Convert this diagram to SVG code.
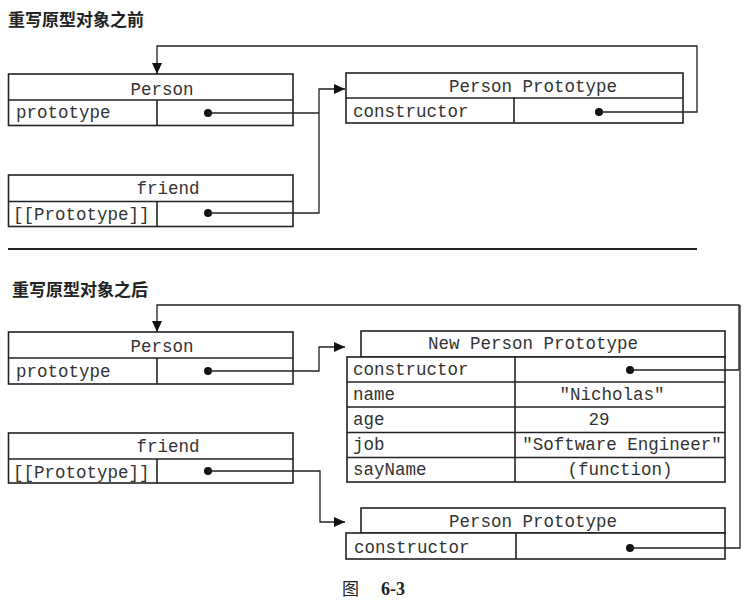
<svg xmlns="http://www.w3.org/2000/svg" width="756" height="603" viewBox="0 0 756 603">
<defs>
<marker id="arr" markerUnits="userSpaceOnUse" markerWidth="12" markerHeight="10" refX="11" refY="5" orient="auto">
<path d="M0,0 L11,5 L0,10 z" fill="#111"/>
</marker>
<style>
.box{fill:#fff;stroke:#222;stroke-width:1.6}
.ln{fill:none;stroke:#222;stroke-width:1.6}
.c{fill:none;stroke:#222;stroke-width:1.3}
.dot{fill:#111}
.m{font-family:"Liberation Mono","DejaVu Sans Mono",monospace;font-size:17.5px;fill:#333}
.mid{text-anchor:middle}
.title{font-family:"Noto Sans CJK SC",sans-serif;font-weight:bold;font-size:17px;fill:#222}
</style>
</defs>
<rect width="756" height="603" fill="#fff"/>

<text class="title" x="8" y="26">重写原型对象之前</text>
<text class="title" x="12" y="296">重写原型对象之后</text>
<line x1="8" y1="249" x2="697" y2="249" stroke="#222" stroke-width="2"/>

<!-- top section -->
<g id="person-top">
<rect class="box" x="8.5" y="74" width="284.5" height="51.5"/>
<line class="ln" x1="8.5" y1="100" x2="293" y2="100"/>
<line class="ln" x1="157" y1="100" x2="157" y2="125.5"/>
<text class="m mid" x="162" y="95">Person</text>
<text class="m" x="16" y="118">prototype</text>
<circle class="dot" cx="208" cy="113" r="4"/>
</g>
<g id="friend-top">
<rect class="box" x="8.5" y="175" width="284.5" height="51.5"/>
<line class="ln" x1="8.5" y1="201.5" x2="293" y2="201.5"/>
<line class="ln" x1="157" y1="201.5" x2="157" y2="226.5"/>
<text class="m mid" x="168" y="194">friend</text>
<text class="m" x="13" y="220">[[Prototype]]</text>
<circle class="dot" cx="208" cy="213" r="4"/>
</g>
<g id="proto-top">
<rect class="box" x="346" y="73" width="337" height="50"/>
<line class="ln" x1="346" y1="98" x2="683" y2="98"/>
<line class="ln" x1="514" y1="98" x2="514" y2="123"/>
<text class="m mid" x="533" y="92">Person Prototype</text>
<text class="m" x="353" y="117">constructor</text>
<circle class="dot" cx="599" cy="112" r="4"/>
</g>

<!-- bottom section -->
<g id="person-bottom">
<rect class="box" x="8.5" y="332" width="284.5" height="52"/>
<line class="ln" x1="8.5" y1="358" x2="293" y2="358"/>
<line class="ln" x1="157" y1="358" x2="157" y2="384"/>
<text class="m mid" x="162" y="352">Person</text>
<text class="m" x="16" y="377">prototype</text>
<circle class="dot" cx="208" cy="371" r="4"/>
</g>
<g id="friend-bottom">
<rect class="box" x="8.5" y="433" width="284.5" height="50"/>
<line class="ln" x1="8.5" y1="459" x2="293" y2="459"/>
<line class="ln" x1="157" y1="459" x2="157" y2="483"/>
<text class="m mid" x="168" y="452">friend</text>
<text class="m" x="13" y="478">[[Prototype]]</text>
<circle class="dot" cx="208" cy="471" r="4"/>
</g>
<g id="new-proto">
<rect class="box" x="361" y="331" width="364" height="26"/>
<rect class="box" x="347" y="357" width="378" height="125"/>
<line class="ln" x1="347" y1="382" x2="725" y2="382"/>
<line class="ln" x1="347" y1="407" x2="725" y2="407"/>
<line class="ln" x1="347" y1="432.5" x2="725" y2="432.5"/>
<line class="ln" x1="347" y1="457.5" x2="725" y2="457.5"/>
<line class="ln" x1="515" y1="357" x2="515" y2="482"/>
<text class="m mid" x="533" y="349">New Person Prototype</text>
<text class="m" x="353" y="375">constructor</text>
<text class="m" x="353" y="400">name</text>
<text class="m" x="353" y="425">age</text>
<text class="m" x="353" y="450">job</text>
<text class="m" x="353" y="475">sayName</text>
<text class="m mid" x="612" y="400">"Nicholas"</text>
<text class="m mid" x="599" y="425">29</text>
<text class="m mid" x="622" y="450">"Software Engineer"</text>
<text class="m mid" x="620" y="475">(function)</text>
<circle class="dot" cx="630" cy="370" r="4"/>
</g>
<g id="proto-bottom">
<rect class="box" x="361" y="508" width="364" height="25"/>
<rect class="box" x="346" y="533" width="379" height="26"/>
<line class="ln" x1="516" y1="533" x2="516" y2="559"/>
<text class="m mid" x="533" y="527">Person Prototype</text>
<text class="m" x="354" y="553">constructor</text>
<circle class="dot" cx="630" cy="548" r="4"/>
</g>

<g id="connectors">
<polyline class="c" points="599,112 697,112 697,46 157,46 157,74" marker-end="url(#arr)"/>
<polyline class="c" points="208,113 319,113"/>
<polyline class="c" points="208,213 319,213 319,89 345,89" marker-end="url(#arr)"/>
<polyline class="c" points="630,370 739,370 739,305 157,305 157,332" marker-end="url(#arr)"/>
<polyline class="c" points="630,548 740,548 740,305"/>
<polyline class="c" points="208,371 319,371 319,347 345,347" marker-end="url(#arr)"/>
<polyline class="c" points="208,471 320,471 320,522 345,522" marker-end="url(#arr)"/>
</g>

<g id="caption">
<text x="342" y="595" font-family="Noto Sans CJK SC,sans-serif" font-size="17" fill="#222">图</text>
<text x="381" y="595" font-family="Liberation Serif,serif" font-weight="bold" font-size="18" fill="#222">6-3</text>
</g>
</svg>
